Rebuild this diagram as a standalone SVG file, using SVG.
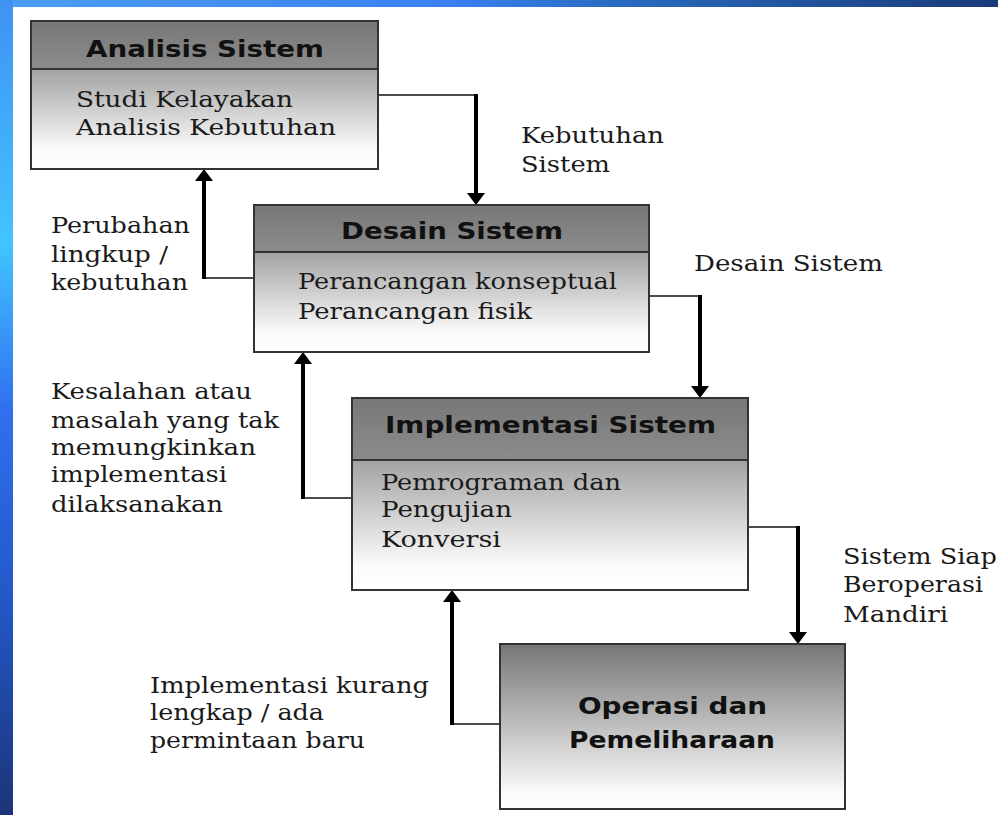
<svg xmlns="http://www.w3.org/2000/svg" width="998" height="815" viewBox="0 0 998 815">
  <defs>
    <linearGradient id="topBand" x1="0" y1="0" x2="1" y2="0">
      <stop offset="0" stop-color="#4a9ef2"/>
      <stop offset="0.45" stop-color="#3a80f2"/>
      <stop offset="0.6" stop-color="#2a6ec4"/>
      <stop offset="1" stop-color="#1a3a78"/>
    </linearGradient>
    <linearGradient id="leftBand" x1="0" y1="0" x2="0" y2="1">
      <stop offset="0" stop-color="#4092f2"/>
      <stop offset="0.3" stop-color="#42c4ff"/>
      <stop offset="0.5" stop-color="#3070f0"/>
      <stop offset="0.75" stop-color="#2256c4"/>
      <stop offset="1" stop-color="#1c3478"/>
    </linearGradient>
    <linearGradient id="head" x1="0" y1="0" x2="0" y2="1">
      <stop offset="0" stop-color="#777777"/>
      <stop offset="1" stop-color="#8c8c8c"/>
    </linearGradient>
    <linearGradient id="body" x1="0" y1="0" x2="0" y2="1">
      <stop offset="0" stop-color="#a2a2a2"/>
      <stop offset="0.8" stop-color="#fafafa"/>
      <stop offset="1" stop-color="#ffffff"/>
    </linearGradient>
    <linearGradient id="solo" x1="0" y1="0" x2="0" y2="1">
      <stop offset="0" stop-color="#767676"/>
      <stop offset="0.9" stop-color="#fafafa"/>
      <stop offset="1" stop-color="#ffffff"/>
    </linearGradient>
    <!-- arrowhead: base sits on the line end, tip points along the path -->
    <marker id="arrow" markerUnits="userSpaceOnUse" markerWidth="13" markerHeight="20" viewBox="0 0 13 20" refX="0" refY="10" orient="auto">
      <path d="M0,1 L12,10 L0,19 Z" fill="#000"/>
    </marker>
    <style>
      .box { stroke: #333; stroke-width: 2; }
      .div { stroke: #333; stroke-width: 2; }
      .title { font-family: "DejaVu Sans", "Liberation Sans", sans-serif; font-weight: bold; font-size: 23px; fill: #111; }
      .txt { font-family: "DejaVu Serif", "Liberation Serif", serif; font-size: 23px; fill: #1a1a1a; }
      .thin { stroke: #111; stroke-width: 1.6; fill: none; }
      .thick { stroke: #000; stroke-width: 4; fill: none; }
    </style>
  </defs>

  <!-- page frame -->
  <rect x="0" y="0" width="998" height="815" fill="#ffffff"/>
  <rect x="0" y="0" width="998" height="7" fill="url(#topBand)"/>
  <rect x="0" y="0" width="13" height="815" fill="url(#leftBand)"/>

  <!-- connectors -->
  <g id="connectors">
    <path class="thin" d="M378,95 H476"/>
    <path class="thick" d="M476,94 V193" marker-end="url(#arrow)"/>

    <path class="thin" d="M254,278 H204"/>
    <path class="thick" d="M204,279 V181" marker-end="url(#arrow)"/>

    <path class="thin" d="M649,296 H700"/>
    <path class="thick" d="M700,295 V386" marker-end="url(#arrow)"/>

    <path class="thin" d="M352,498 H303"/>
    <path class="thick" d="M303,499 V364" marker-end="url(#arrow)"/>

    <path class="thin" d="M748,527 H798"/>
    <path class="thick" d="M798,526 V632" marker-end="url(#arrow)"/>

    <path class="thin" d="M500,724 H452"/>
    <path class="thick" d="M452,725 V602" marker-end="url(#arrow)"/>
  </g>

  <!-- Analisis Sistem -->
  <g id="analisis">
    <rect x="31" y="21" width="347" height="48" fill="url(#head)"/>
    <rect x="31" y="69" width="347" height="100" fill="url(#body)"/>
    <rect class="box" x="31" y="21" width="347" height="148" fill="none"/>
    <line class="div" x1="31" y1="69" x2="378" y2="69"/>
    <text class="title" x="86" y="57" textLength="238" lengthAdjust="spacingAndGlyphs">Analisis Sistem</text>
    <text class="txt" x="76" y="107" textLength="217" lengthAdjust="spacingAndGlyphs">Studi Kelayakan</text>
    <text class="txt" x="76" y="135" textLength="260" lengthAdjust="spacingAndGlyphs">Analisis Kebutuhan</text>
  </g>

  <!-- Desain Sistem -->
  <g id="desain">
    <rect x="254" y="205" width="395" height="47" fill="url(#head)"/>
    <rect x="254" y="252" width="395" height="100" fill="url(#body)"/>
    <rect class="box" x="254" y="205" width="395" height="147" fill="none"/>
    <line class="div" x1="254" y1="252" x2="649" y2="252"/>
    <text class="title" x="341" y="239" textLength="222" lengthAdjust="spacingAndGlyphs">Desain Sistem</text>
    <text class="txt" x="298" y="289" textLength="319" lengthAdjust="spacingAndGlyphs">Perancangan konseptual</text>
    <text class="txt" x="298" y="319" textLength="234" lengthAdjust="spacingAndGlyphs">Perancangan fisik</text>
  </g>

  <!-- Implementasi Sistem -->
  <g id="implementasi">
    <rect x="352" y="398" width="396" height="62" fill="url(#head)"/>
    <rect x="352" y="460" width="396" height="130" fill="url(#body)"/>
    <rect class="box" x="352" y="398" width="396" height="192" fill="none"/>
    <line class="div" x1="352" y1="460" x2="748" y2="460"/>
    <text class="title" x="385" y="433" textLength="331" lengthAdjust="spacingAndGlyphs">Implementasi Sistem</text>
    <text class="txt" x="381" y="490" textLength="240" lengthAdjust="spacingAndGlyphs">Pemrograman dan</text>
    <text class="txt" x="381" y="517" textLength="131" lengthAdjust="spacingAndGlyphs">Pengujian</text>
    <text class="txt" x="381" y="547" textLength="120" lengthAdjust="spacingAndGlyphs">Konversi</text>
  </g>

  <!-- Operasi dan Pemeliharaan -->
  <g id="operasi">
    <rect class="box" x="500" y="644" width="345" height="165" fill="url(#solo)"/>
    <text class="title" x="578" y="714" textLength="189" lengthAdjust="spacingAndGlyphs">Operasi dan</text>
    <text class="title" x="569" y="748" textLength="206" lengthAdjust="spacingAndGlyphs">Pemeliharaan</text>
  </g>

  <!-- connector labels -->
  <g id="labels">
    <text class="txt" x="521" y="143" textLength="143" lengthAdjust="spacingAndGlyphs">Kebutuhan</text>
    <text class="txt" x="521" y="172" textLength="89" lengthAdjust="spacingAndGlyphs">Sistem</text>

    <text class="txt" x="51" y="233" textLength="139" lengthAdjust="spacingAndGlyphs">Perubahan</text>
    <text class="txt" x="51" y="262" textLength="117" lengthAdjust="spacingAndGlyphs">lingkup /</text>
    <text class="txt" x="51" y="290" textLength="137" lengthAdjust="spacingAndGlyphs">kebutuhan</text>

    <text class="txt" x="694" y="271" textLength="189" lengthAdjust="spacingAndGlyphs">Desain Sistem</text>

    <text class="txt" x="51" y="399" textLength="201" lengthAdjust="spacingAndGlyphs">Kesalahan atau</text>
    <text class="txt" x="51" y="428" textLength="228" lengthAdjust="spacingAndGlyphs">masalah yang tak</text>
    <text class="txt" x="51" y="455" textLength="205" lengthAdjust="spacingAndGlyphs">memungkinkan</text>
    <text class="txt" x="51" y="482" textLength="176" lengthAdjust="spacingAndGlyphs">implementasi</text>
    <text class="txt" x="51" y="512" textLength="172" lengthAdjust="spacingAndGlyphs">dilaksanakan</text>

    <text class="txt" x="843" y="564" textLength="154" lengthAdjust="spacingAndGlyphs">Sistem Siap</text>
    <text class="txt" x="843" y="592" textLength="140" lengthAdjust="spacingAndGlyphs">Beroperasi</text>
    <text class="txt" x="843" y="622" textLength="105" lengthAdjust="spacingAndGlyphs">Mandiri</text>

    <text class="txt" x="150" y="693" textLength="279" lengthAdjust="spacingAndGlyphs">Implementasi kurang</text>
    <text class="txt" x="150" y="720" textLength="174" lengthAdjust="spacingAndGlyphs">lengkap / ada</text>
    <text class="txt" x="150" y="748" textLength="215" lengthAdjust="spacingAndGlyphs">permintaan baru</text>
  </g>
</svg>
